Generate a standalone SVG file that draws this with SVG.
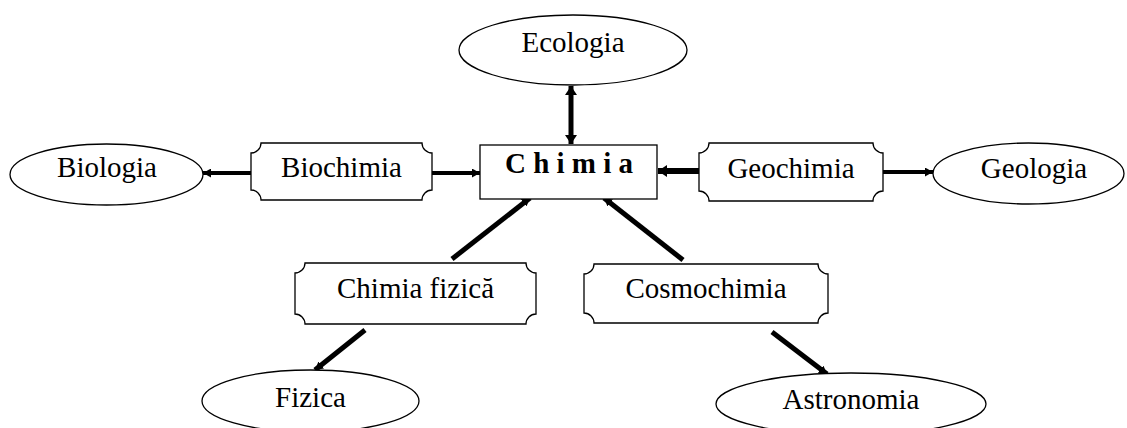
<svg xmlns="http://www.w3.org/2000/svg" width="1127" height="428" viewBox="0 0 1127 428">
<defs>
<style>
.shape{fill:#fff;stroke:#000;stroke-width:1.3}
.lbl{font-family:"Liberation Serif","Times New Roman",serif;font-size:29px;fill:#000;text-anchor:middle}
.bold{font-weight:bold}
.con{stroke:#000;fill:none}
</style>
<marker id="ah" markerUnits="userSpaceOnUse" markerWidth="8" markerHeight="9" refX="8" refY="4.5" orient="auto-start-reverse" viewBox="0 0 8 9">
<path d="M0,0 L8,4.5 L0,9 Z" fill="#000"/>
</marker>
<marker id="ahb" markerUnits="userSpaceOnUse" markerWidth="9" markerHeight="12" refX="9" refY="6" orient="auto-start-reverse" viewBox="0 0 9 12">
<path d="M0,0 L9,6 L0,12 Z" fill="#000"/>
</marker>
</defs>
<rect width="1127" height="428" fill="#fff"/>
<g id="connectors">
<line class="con" x1="251" y1="173" x2="203" y2="173" stroke-width="4" marker-end="url(#ah)"/>
<line class="con" x1="432" y1="173" x2="480" y2="173" stroke-width="4" marker-end="url(#ah)"/>
<line class="con" x1="699" y1="171" x2="658" y2="171" stroke-width="6" marker-end="url(#ahb)"/>
<line class="con" x1="883" y1="172" x2="933" y2="172" stroke-width="4" marker-end="url(#ah)"/>
<line class="con" x1="571" y1="86" x2="571" y2="144" stroke-width="5" marker-start="url(#ahb)" marker-end="url(#ahb)"/>
<line class="con" x1="452" y1="259" x2="530" y2="198" stroke-width="5" marker-end="url(#ah)"/>
<line class="con" x1="683" y1="260" x2="604" y2="198" stroke-width="5" marker-end="url(#ah)"/>
<line class="con" x1="365" y1="330" x2="315" y2="370" stroke-width="5" marker-end="url(#ah)"/>
<line class="con" x1="772" y1="332" x2="827" y2="374" stroke-width="5" marker-end="url(#ah)"/>
</g>
<g id="ecologia">
<ellipse class="shape" cx="573" cy="50" rx="114" ry="35"/>
<text class="lbl" x="573" y="52">Ecologia</text>
</g>
<g id="chimia">
<rect class="shape" x="480" y="145" width="177" height="54"/>
<text class="lbl bold" x="569" y="173">C h i m i a</text>
</g>
<g id="biologia">
<ellipse class="shape" cx="106.5" cy="174.5" rx="96.5" ry="30.5"/>
<text class="lbl" x="107" y="177">Biologia</text>
</g>
<g id="biochimia">
<path class="shape" d="M261,143 H422 A10,10 0 0 0 432,153 V190 A10,10 0 0 0 422,200 H261 A10,10 0 0 0 251,190 V153 A10,10 0 0 0 261,143 Z"/>
<text class="lbl" x="341.5" y="177">Biochimia</text>
</g>
<g id="geochimia">
<path class="shape" d="M709,143 H873 A10,10 0 0 0 883,153 V191 A10,10 0 0 0 873,201 H709 A10,10 0 0 0 699,191 V153 A10,10 0 0 0 709,143 Z"/>
<text class="lbl" x="791" y="178">Geochimia</text>
</g>
<g id="geologia">
<ellipse class="shape" cx="1028.5" cy="173.5" rx="95.5" ry="30.5"/>
<text class="lbl" x="1034" y="178">Geologia</text>
</g>
<g id="chimia-fizica">
<path class="shape" d="M305,263 H526 A10,10 0 0 0 536,273 V314 A10,10 0 0 0 526,324 H305 A10,10 0 0 0 295,314 V273 A10,10 0 0 0 305,263 Z"/>
<text class="lbl" x="415.5" y="298">Chimia fizică</text>
</g>
<g id="cosmochimia">
<path class="shape" d="M594,264 H818 A10,10 0 0 0 828,274 V313 A10,10 0 0 0 818,323 H594 A10,10 0 0 0 584,313 V274 A10,10 0 0 0 594,264 Z"/>
<text class="lbl" x="706" y="298">Cosmochimia</text>
</g>
<g id="fizica">
<ellipse class="shape" cx="310.5" cy="401" rx="108.5" ry="31"/>
<text class="lbl" x="310.5" y="407">Fizica</text>
</g>
<g id="astronomia">
<ellipse class="shape" cx="851" cy="404" rx="135" ry="31"/>
<text class="lbl" x="851" y="409">Astronomia</text>
</g>
</svg>
